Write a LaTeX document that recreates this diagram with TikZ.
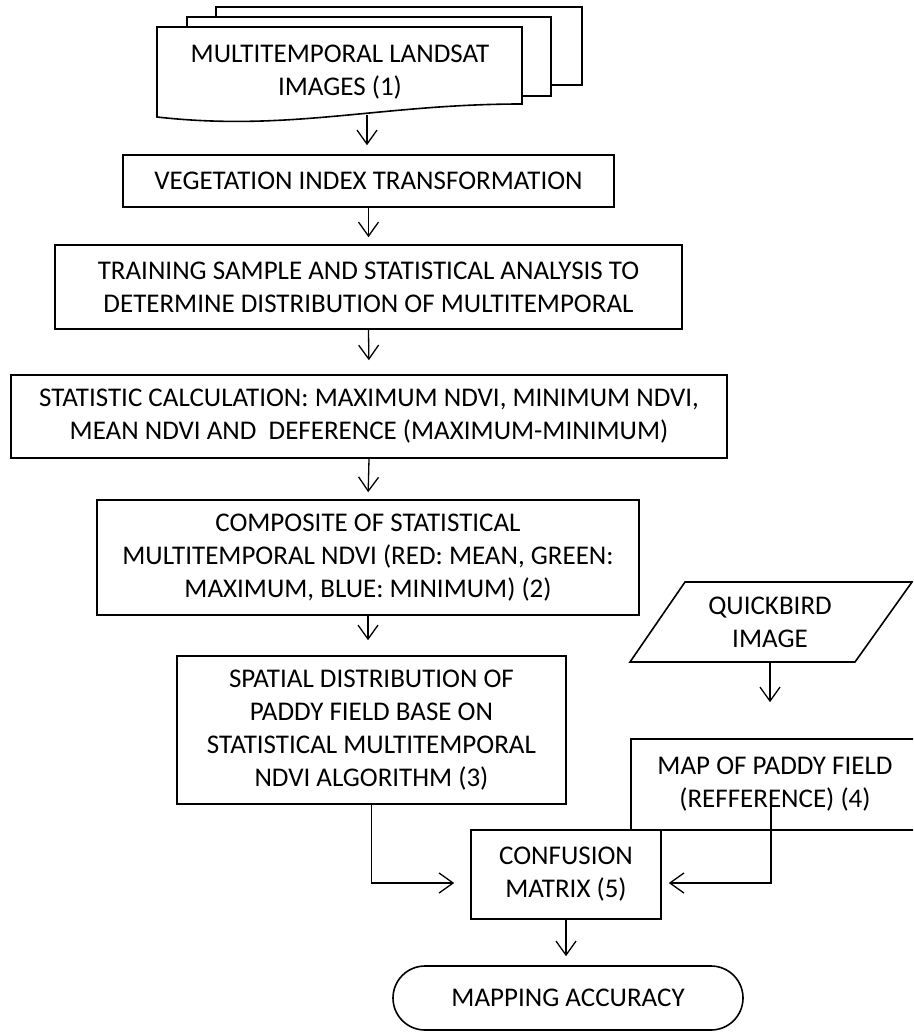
\documentclass[tikz,border=0pt]{standalone}
\usepackage{fontspec}
\setmainfont{Carlito}
\usetikzlibrary{arrows.meta,shapes.misc}
\begin{document}
\begin{tikzpicture}[x=1pt,y=-1pt,
  box/.style={draw, line width=1.6pt, rectangle, inner sep=0pt, align=center, font=\fontsize{27}{33}\selectfont},
  lbl/.style={inner sep=0pt, align=center, font=\fontsize{27}{33}\selectfont},
  outline/.style={line width=1.6pt, line join=miter},
  arr/.style={line width=1.3pt, -{Straight Barb[length=14pt,width=20pt,line width=1.3pt]}},
]
\clip (0,0) rectangle (913,1032);

% multi-document
\draw[outline] (216,17) -- (216,7) -- (582,7) -- (582,85) -- (551,85);
\draw[outline] (187,27) -- (187,17) -- (551,17) -- (551,96) -- (522,96);
\draw[outline] (157,27) -- (522,27) -- (522,104) .. controls (380,104) and (290,132) .. (157,117) -- cycle;
\node[lbl] (md) at (340,72) {MULTITEMPORAL LANDSAT\\IMAGES (1)};
\coordinate (mdb) at (367,115);

\node[box, minimum width=491pt, minimum height=52pt] (veg) at (368.5,181) {VEGETATION INDEX TRANSFORMATION};
\node[box, minimum width=627pt, minimum height=84pt] (train) at (368.5,287) {TRAINING SAMPLE AND STATISTICAL ANALYSIS TO\\DETERMINE DISTRIBUTION OF MULTITEMPORAL};
\node[box, minimum width=716pt, minimum height=83pt] (stat) at (369,416.5) {STATISTIC CALCULATION: MAXIMUM NDVI, MINIMUM NDVI,\\MEAN NDVI AND\ \ DEFERENCE (MAXIMUM-MINIMUM)};
\node[box, minimum width=542pt, minimum height=115pt] (comp) at (368,557.5) {COMPOSITE OF STATISTICAL\\MULTITEMPORAL NDVI (RED: MEAN, GREEN:\\MAXIMUM, BLUE: MINIMUM) (2)};
\node[box, minimum width=389pt, minimum height=148pt] (spat) at (371.5,730) {SPATIAL DISTRIBUTION OF\\PADDY FIELD BASE ON\\STATISTICAL MULTITEMPORAL\\NDVI ALGORITHM (3)};

% quickbird parallelogram
\draw[outline] (685,582) -- (912,582) -- (855,662) -- (630,662) -- cycle;
\node[lbl, minimum height=80pt] (qb) at (770,622) {QUICKBIRD\\IMAGE};

\node[box, minimum width=288pt, minimum height=91pt] (map) at (775,784.5) {MAP OF PADDY FIELD\\(REFFERENCE) (4)};
\coordinate (mapin) at (771,798);

\node[box, fill=white, minimum width=190pt, minimum height=89pt] (conf) at (566,874.5) {CONFUSION\\MATRIX (5)};
\node[box, rounded rectangle, minimum width=350pt, minimum height=64pt] (ma) at (568,998) {MAPPING ACCURACY};

% connectors
\draw[arr, shorten >=9pt] (mdb) -- (mdb |- veg.north);
\draw[arr, shorten >=7pt] (veg.south) -- (train.north);
\draw[arr, shorten >=14pt] (train.south) -- (stat.north);
\draw[arr, shorten >=7pt] (stat.south) -- (comp.north);
\draw[arr, shorten >=15pt] (comp.south) -- (comp.south |- spat.north);
\draw[arr, shorten >=16pt] (spat.south) |- ([yshift=-8.5pt]conf.west);
\draw[arr, shorten >=36pt] (qb.south) -- (qb.south |- map.north);
\draw[arr, shorten >=7pt] (mapin) |- ([yshift=-8.5pt]conf.east);
\draw[arr, shorten >=9pt] (conf.south) -- (conf.south |- ma.north);
\end{tikzpicture}
\end{document}
